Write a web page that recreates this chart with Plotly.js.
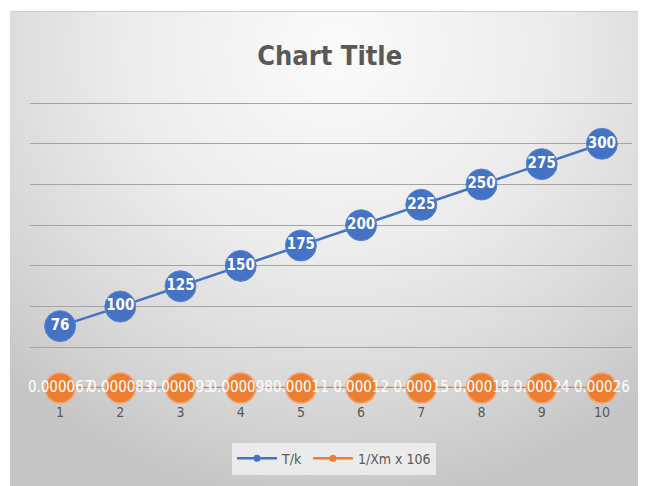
<!DOCTYPE html>
<html>
<head>
<meta charset="utf-8">
<script src="https://cdn.plot.ly/plotly-3.0.1.min.js"></script>
<style>
  html, body { margin: 0; padding: 0; background: #ffffff; }
  #wrap { position: relative; width: 649px; height: 486px; overflow: hidden; }
  #frame {
    position: absolute; left: 10px; top: 11px; width: 628px; height: 475px;
    background: radial-gradient(ellipse 75% 95% at 52% 8%, #fbfbfb 0%, #ececec 45%, #d6d6d6 80%, #c6c6c6 100%);
    border-top: 1px solid #d0d0d0;
  }
  #chart { position: absolute; left: 0; top: 0; width: 649px; height: 486px; }
</style>
</head>
<body>
<div id="wrap">
  <div id="frame"></div>
  <div id="chart"></div>
</div>
<script>
// Sample index along the horizontal axis
const points = [1, 2, 3, 4, 5, 6, 7, 8, 9, 10];
// T/k series
const tOverK = [76, 100, 125, 150, 175, 200, 225, 250, 275, 300];
// 1/Xm x 106 series
const invXm = [0.000067, 0.000083, 0.000093, 0.000098, 0.00011, 0.00012, 0.00015, 0.00018, 0.00024, 0.00026];
const seriesNames = ['T/k', '1/Xm x 106'];
// horizontal gridline values
const gridValues = [0, 50, 100, 150, 200, 250, 300, 350];

const blue = '#4472C4';
const orange = '#ED7D31';
const narrowFont = 'DejaVu Sans Condensed, Roboto, Arial, sans-serif';

const traces = [
  {
    x: points, y: tOverK, type: 'scatter', mode: 'lines+markers+text',
    name: seriesNames[0], showlegend: false,
    line: { color: blue, width: 2.5 },
    marker: { color: blue, size: 31, line: { color: '#5b86d3', width: 1 } },
    text: tOverK.map(String), textposition: 'middle center',
    textfont: { family: narrowFont, size: 15, color: '#ffffff', weight: 'bold' },
    hoverinfo: 'skip', cliponaxis: false
  },
  {
    x: points, y: invXm, type: 'scatter', mode: 'lines+markers+text',
    name: seriesNames[1], showlegend: false,
    line: { color: orange, width: 2.5 },
    marker: { color: orange, size: 30, line: { color: '#f3a36f', width: 1.5 } },
    text: invXm.map(String), textposition: 'middle center',
    textfont: { family: narrowFont, size: 15, color: '#ffffff' },
    hoverinfo: 'skip', cliponaxis: false
  },
  // legend entries with small markers
  {
    x: [null], y: [null], type: 'scatter', mode: 'lines+markers', name: seriesNames[0],
    line: { color: blue, width: 2.5 }, marker: { color: blue, size: 7 }
  },
  {
    x: [null], y: [null], type: 'scatter', mode: 'lines+markers', name: seriesNames[1],
    line: { color: orange, width: 2.5 }, marker: { color: orange, size: 7 }
  }
];

const layout = {
  width: 649, height: 486,
  margin: { l: 30, r: 17, t: 99, b: 97 },
  paper_bgcolor: 'rgba(0,0,0,0)',
  plot_bgcolor: 'rgba(0,0,0,0)',
  title: {
    text: 'Chart Title',
    x: 0.508, xanchor: 'center', y: 0.885, yanchor: 'middle',
    font: { family: narrowFont, size: 27, color: '#595959', weight: 'bold' }
  },
  xaxis: {
    range: [0.5, 10.5], tickvals: points, ticktext: points.map(String),
    showgrid: false, zeroline: false, showline: false, ticks: '',
    ticklabelstandoff: 14,
    tickfont: { family: narrowFont, size: 14, color: '#595959' },
    fixedrange: true
  },
  yaxis: {
    range: [0, 355], tickvals: gridValues, showticklabels: false,
    showgrid: true, gridcolor: '#a4a4a4', gridwidth: 1,
    zeroline: false,
    showline: false, ticks: '', fixedrange: true
  },
  showlegend: true,
  legend: {
    orientation: 'h', x: 0.505, xanchor: 'center', y: -0.185, yanchor: 'top',
    bgcolor: 'rgba(240,240,240,0.85)', borderwidth: 0,
    font: { family: narrowFont, size: 14, color: '#595959' },
    itemwidth: 40, tracegroupgap: 0
  }
};

Plotly.newPlot('chart', traces, layout, { displayModeBar: false, staticPlot: true });
</script>
</body>
</html>
